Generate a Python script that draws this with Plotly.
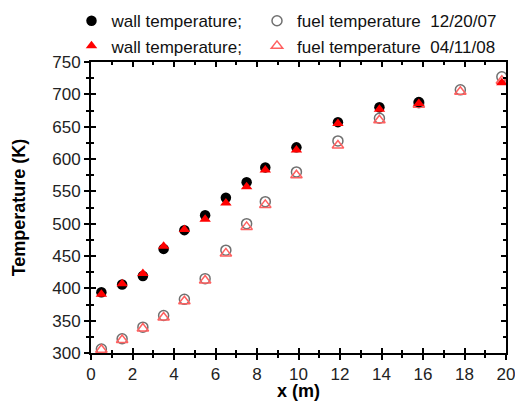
import plotly.graph_objects as go

x_pos = [0.5, 1.5, 2.5, 3.5, 4.5, 5.5, 6.5, 7.5, 8.4, 9.9, 11.9, 13.9, 15.8, 17.8, 19.8]
wall_1220 = [394, 406, 419, 461, 490, 513, 540, 564, 587, 618, 657, 680, 688, None, None]
fuel_1220 = [306, 322, 340, 358, 383, 415, 459, 500, 534, 580, 628, 663, 687, 707, 727]
wall_0411 = [391, 407, 423, 465, 491, 507, 532, 557, 583, 614, 655, 677, 686, None, 718]
fuel_0411 = [305, 320, 338, 355, 380, 412, 454, 495, 529, 575, 621, 660, 684, 704, 721]

x_ticks = [0, 2, 4, 6, 8, 10, 12, 14, 16, 18, 20]
y_ticks = [300, 350, 400, 450, 500, 550, 600, 650, 700, 750]

NB = "\u00a0"
fig = go.Figure()
fig.add_trace(go.Scatter(x=x_pos, y=fuel_1220, mode="markers", name="fuel temperature" + NB * 2 + "12/20/07",
                         marker=dict(symbol="circle-open", size=10, color="#707070", line=dict(width=1.5)),
                         legend="legend2", legendrank=1))
fig.add_trace(go.Scatter(x=x_pos, y=fuel_0411, mode="markers", name="fuel temperature" + NB * 2 + "04/11/08",
                         marker=dict(symbol="triangle-up-open", size=10, color="#ff6060", line=dict(width=1.5)),
                         legend="legend2", legendrank=2))
fig.add_trace(go.Scatter(x=x_pos, y=wall_1220, mode="markers", name="wall temperature;",
                         marker=dict(symbol="circle", size=10.5, color="black"), legendrank=1))
fig.add_trace(go.Scatter(x=x_pos, y=wall_0411, mode="markers", name="wall temperature;",
                         marker=dict(symbol="triangle-up", size=10, color="red"), legendrank=2))
fig.add_trace(go.Scatter(x=[], y=[], xaxis="x2", yaxis="y2", showlegend=False))

axis_common = dict(showline=True, linecolor="black", linewidth=2, showgrid=False, zeroline=False,
                   ticklen=5, tickwidth=2, tickcolor="black")
legend_common = dict(orientation="v", y=1.202, xanchor="left", yanchor="top",
                     font=dict(size=17, color="#111"), traceorder="normal", itemclick=False,
                     tracegroupgap=0, bgcolor="rgba(0,0,0,0)")
fig.update_layout(
    width=515, height=401,
    margin=dict(l=91, r=9, t=62, b=48, autoexpand=False),
    paper_bgcolor="white", plot_bgcolor="white",
    font=dict(family="Liberation Sans, Arial, sans-serif", size=17, color="#222"),
    showlegend=True,
    legend=dict(x=-0.047, **legend_common),
    legend2=dict(x=0.40, **legend_common),
    xaxis=dict(range=[0, 20], tickvals=x_ticks, ticks="outside", mirror=True, ticklabeloverflow="allow",
               minor=dict(dtick=1, ticks="outside", ticklen=3, tickwidth=2, tickcolor="black"),
               title=dict(text="<b>x (m)</b>", standoff=6, font=dict(size=18, color="black")),
               **axis_common),
    yaxis=dict(range=[300, 750], tickvals=y_ticks, ticks="outside", mirror=True,
               minor=dict(dtick=25, ticks="outside", ticklen=3, tickwidth=2, tickcolor="black"),
               title=dict(text="<b>Temperature (K)</b>", standoff=22, font=dict(size=18, color="black")),
               **axis_common),
    xaxis2=dict(range=[0, 20], overlaying="x", anchor="y2", tickvals=x_ticks, ticks="inside",
                mirror="allticks", showticklabels=False,
                minor=dict(dtick=1, ticks="inside", ticklen=3, tickwidth=2, tickcolor="black"),
                **axis_common),
    yaxis2=dict(range=[300, 750], overlaying="y", anchor="x2", tickvals=y_ticks, ticks="inside",
                mirror="allticks", showticklabels=False,
                minor=dict(dtick=25, ticks="inside", ticklen=3, tickwidth=2, tickcolor="black"),
                **axis_common),
)
fig.write_html("out.html", config={"displayModeBar": False},
               post_script="document.body.style.margin='0';")
